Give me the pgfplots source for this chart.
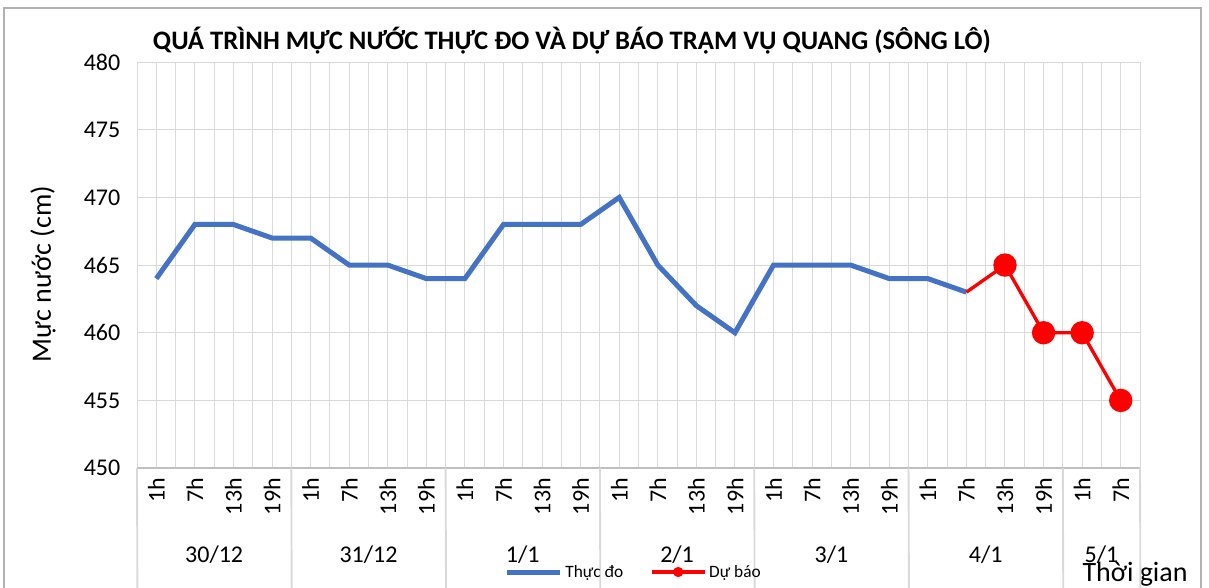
\documentclass[border=0pt]{standalone}
\usepackage{fontspec}
\setmainfont{Carlito}
\usepackage{pgfplots}
\pgfplotsset{compat=1.18}
\definecolor{blueL}{HTML}{4472C4}
\definecolor{gridc}{HTML}{D9D9D9}
\definecolor{axc}{HTML}{BFBFBF}
\begin{document}
\begin{tikzpicture}[x=0.75pt,y=0.75pt]
\path[use as bounding box] (0,0) rectangle (1209,588);
\draw[gray!60, line width=1pt] (4,-5) -- (4,580) -- (1201,580) -- (1201,-5);
\node[font=\fontsize{20}{23}\selectfont\bfseries] at (572,547) {QUÁ TRÌNH MỰC NƯỚC THỰC ĐO VÀ DỰ BÁO TRẠM VỤ QUANG (SÔNG LÔ)};
\node[rotate=90, font=\fontsize{21}{25}\selectfont] at (43,314) {Mực nước (cm)};
\node[font=\fontsize{21}{25}\selectfont] at (1135,14) {Thời gian};
\begin{axis}[
  at={(102.75pt,90pt)}, anchor=south west,
  scale only axis, width=752.25pt, height=304.5pt,
  xmin=-0.5, xmax=25.5, ymin=450, ymax=480,
  ytick={450,455,...,480},
  xtick={0,...,25},
  xticklabels={1h,7h,13h,19h,1h,7h,13h,19h,1h,7h,13h,19h,1h,7h,13h,19h,1h,7h,13h,19h,1h,7h,13h,19h,1h,7h},
  minor xtick={-0.5,0.5,...,25.5},
  grid=both,
  major grid style={gridc, line width=0.75pt},
  minor grid style={gridc, line width=0.75pt},
  major tick length=0pt, minor tick length=0pt,
  axis line style={draw=none},
  /pgf/number format/assume math mode=true,
  tick label style={font=\fontsize{18}{21}\selectfont},
  xticklabel style={rotate=90, anchor=east},
  xticklabel shift=4pt,
  yticklabel style={xshift=-9pt},
  clip=false,
  legend style={at={(0.4955,-0.256)}, anchor=center, draw=none, fill=none,
    font=\fontsize{13}{15}\selectfont, legend columns=2,
    /tikz/every even column/.append style={column sep=18pt}},
  legend image code/.code={\draw[mark repeat=2,mark phase=2,#1] plot coordinates {(0cm,0cm) (0.7cm,0cm) (1.4cm,0cm)};},
]
\draw[axc, line width=1.1pt] (axis cs:-0.5,450) -- (axis cs:25.5,450);
\draw[gridc, line width=1.4pt] (axis cs:-0.5,450) -- ++(0,-76.5pt);
\draw[gridc, line width=1.4pt] (axis cs:3.5,450) -- ++(0,-76.5pt);
\draw[gridc, line width=1.4pt] (axis cs:7.5,450) -- ++(0,-76.5pt);
\draw[gridc, line width=1.4pt] (axis cs:11.5,450) -- ++(0,-76.5pt);
\draw[gridc, line width=1.4pt] (axis cs:15.5,450) -- ++(0,-76.5pt);
\draw[gridc, line width=1.4pt] (axis cs:19.5,450) -- ++(0,-76.5pt);
\draw[gridc, line width=1.4pt] (axis cs:23.5,450) -- ++(0,-76.5pt);
\draw[gridc, line width=1.4pt] (axis cs:25.5,450) -- ++(0,-76.5pt);
\node[font=\fontsize{18}{21}\selectfont] at (axis cs:1.5,450) [yshift=-65pt] {30/12};
\node[font=\fontsize{18}{21}\selectfont] at (axis cs:5.5,450) [yshift=-65pt] {31/12};
\node[font=\fontsize{18}{21}\selectfont] at (axis cs:9.5,450) [yshift=-65pt] {1/1};
\node[font=\fontsize{18}{21}\selectfont] at (axis cs:13.5,450) [yshift=-65pt] {2/1};
\node[font=\fontsize{18}{21}\selectfont] at (axis cs:17.5,450) [yshift=-65pt] {3/1};
\node[font=\fontsize{18}{21}\selectfont] at (axis cs:21.5,450) [yshift=-65pt] {4/1};
\node[font=\fontsize{18}{21}\selectfont] at (axis cs:24.5,450) [yshift=-65pt] {5/1};
\addplot[blueL, line width=3.75pt, forget plot] coordinates {(0,464)(1,468)(2,468)(3,467)(4,467)(5,465)(6,465)(7,464)(8,464)(9,468)(10,468)(11,468)(12,470)(13,465)(14,462)(15,460)(16,465)(17,465)(18,465)(19,464)(20,464)(21,463)};
\addplot[red, line width=2.5pt, mark=*, mark size=7.5pt, mark indices={2,3,4,5}, forget plot] coordinates {(21,463)(22,465)(23,460)(24,460)(25,455)};
\addlegendimage{blueL, line width=3.75pt}
\addlegendentry{Thực đo}
\addlegendimage{red, line width=2.5pt, mark=*, mark size=2.5pt}
\addlegendentry{Dự báo}
\end{axis}
\end{tikzpicture}
\end{document}
